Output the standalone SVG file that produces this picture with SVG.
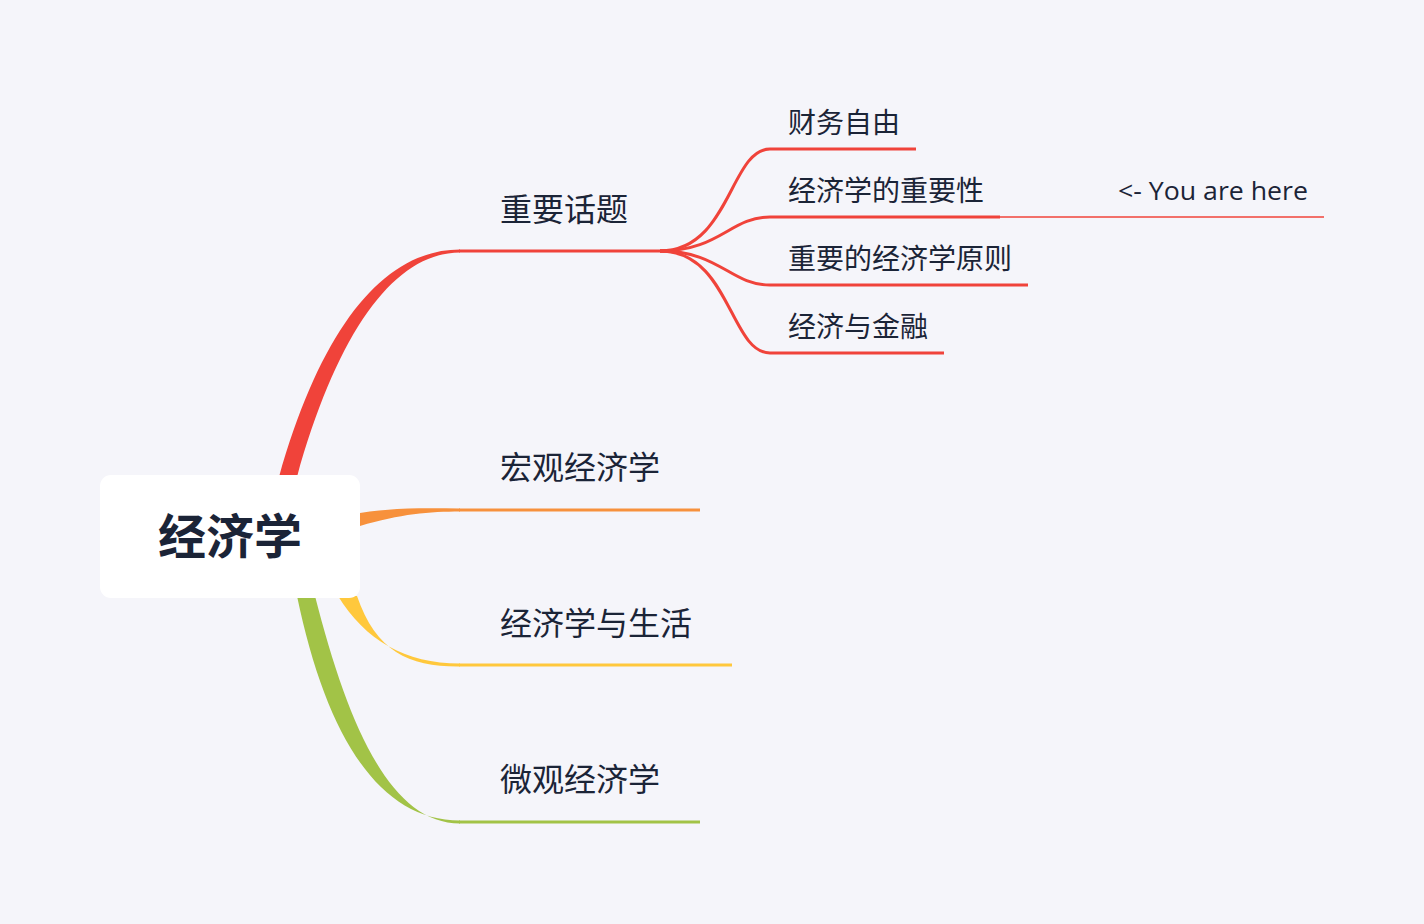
<svg xmlns="http://www.w3.org/2000/svg" width="1424" height="924" viewBox="0 0 1424 924">
<style>
.t{font-family:"Noto Sans CJK SC","Noto Sans",sans-serif;fill:#1b2437}
.m{font-size:32px}
.s{font-size:28px}
.ln{fill:none;stroke-width:3;stroke-linecap:butt}
.r{stroke:#f0433a}
</style>
<rect width="1424" height="924" fill="#f5f5fa"/>
<g id="connectors">
<path d="M279 477 C322 325 385 249.5 460 249.5 L460 252.5 C395 252.5 338 330 297 477 Z" fill="#f0433a"/>
<path d="M360 513 C400 507 430 508.5 460 508.5 L460 511.5 C430 511.5 400 514 360 526 Z" fill="#f7913c"/>
<path d="M338 596 C365 640 405 663.5 460 663.5 L460 666.5 C410 667 376 652 357 596 Z" fill="#ffc83c"/>
<path d="M297 596 C326 735 378 820.5 460 820.5 L460 823.5 C390 823.5 348 725 315 596 Z" fill="#a2c347"/>
<path class="ln r" d="M459 251 H670"/>
<path class="ln" stroke="#f7913c" d="M459 510 H700"/>
<path class="ln" stroke="#ffc83c" d="M459 665 H732"/>
<path class="ln" stroke="#a2c347" d="M459 822 H700"/>
<path class="ln r" d="M660 251 C730 251 730 149 770 149 H916"/>
<path class="ln r" d="M660 251 C720 251 730 217 770 217 H1000"/>
<path class="ln r" d="M660 251 C720 251 730 285 770 285 H1028"/>
<path class="ln r" d="M660 251 C730 251 730 353 770 353 H944"/>
<path d="M1000 217 H1324" fill="none" stroke="#f0433a" stroke-width="1.6"/>
</g>
<g id="root">
<rect x="100" y="475" width="260" height="123" rx="11" fill="#ffffff"/>
<text class="t" x="230" y="554" text-anchor="middle" font-size="48" font-weight="bold" fill="#0f1a2a">经济学</text>
</g>
<g id="n1"><text class="t m" x="500" y="221">重要话题</text></g>
<g id="n2"><text class="t m" x="500" y="479">宏观经济学</text></g>
<g id="n3"><text class="t m" x="500" y="635">经济学与生活</text></g>
<g id="n4"><text class="t m" x="500" y="791">微观经济学</text></g>
<g id="n11"><text class="t s" x="788" y="133">财务自由</text></g>
<g id="n12"><text class="t s" x="788" y="201">经济学的重要性</text></g>
<g id="n13"><text class="t s" x="788" y="269">重要的经济学原则</text></g>
<g id="n14"><text class="t s" x="788" y="337">经济与金融</text></g>
<g id="note"><text x="1118" y="200" font-family="'Open Sans',Lato,sans-serif" font-size="25" textLength="190" lengthAdjust="spacingAndGlyphs" fill="#1b2437">&lt;- You are here</text></g>
</svg>
